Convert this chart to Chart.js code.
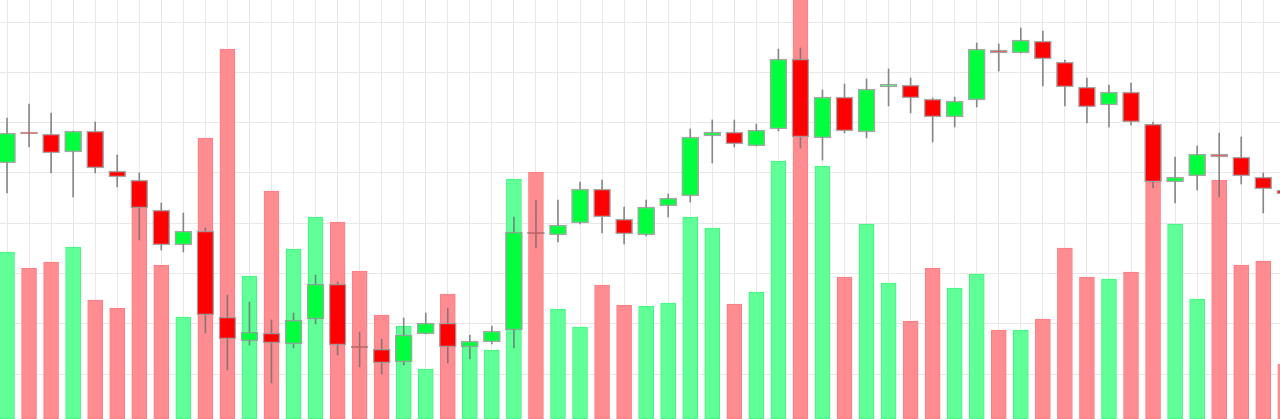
<!DOCTYPE html>
<html lang="en">

<head>
    <meta charset="UTF-8">
    <meta name="viewport" content="width=device-width, initial-scale=1.0">
    <title>Candles</title>
    <script src="https://cdn.jsdelivr.net/npm/chart.js"></script>
    <style>
        html, body {
            margin: 0;
            padding: 0;
            background-color: #ffffff;
            overflow: hidden;
        }

        #wrap {
            position: relative;
            width: 1280px;
            height: 419px;
        }
    </style>
</head>

<body>
    <div id="wrap">
        <canvas id="chart-candles"></canvas>
    </div>

    <script>
        // OHLC + volume, one entry per session
        const opens = [151.97, 158.13, 157.73, 154.16, 158.33, 150.38, 148.59, 142.62, 135.67, 138.45,
            121.35, 116.58, 118.17, 115.98, 120.95, 127.91, 115.59, 114.99, 112.41, 117.97,
            120.16, 115.39, 116.38, 118.77, 138.25, 137.65, 140.04, 146.80, 140.83, 137.65,
            143.42, 145.41, 157.34, 158.13, 155.35, 158.73, 172.64, 156.94, 165.09, 158.13,
            167.08, 167.48, 164.69, 161.11, 164.49, 174.43, 173.84, 176.22, 172.05, 167.08,
            163.50, 166.08, 159.72, 148.19, 149.38, 153.76, 153.16, 149.18, 146.60];
        const highs = [160.91, 163.70, 161.91, 158.33, 160.12, 153.56, 149.98, 144.02, 142.03, 139.05,
            125.73, 124.33, 120.76, 122.15, 129.70, 128.31, 118.37, 116.98, 121.15, 122.15,
            123.14, 117.77, 119.56, 141.23, 144.61, 144.61, 148.19, 148.59, 143.22, 144.61,
            145.81, 158.73, 160.52, 160.52, 159.72, 174.63, 174.83, 166.48, 167.67, 168.67,
            170.66, 168.87, 164.89, 165.09, 175.83, 175.63, 178.81, 178.21, 172.45, 168.87,
            167.48, 167.87, 160.12, 153.16, 155.35, 157.93, 157.14, 149.98, 147.40];
        const lows = [146.00, 155.15, 149.98, 145.21, 149.98, 147.20, 136.66, 134.67, 134.27, 118.17,
            110.81, 115.79, 108.23, 115.19, 119.96, 113.80, 111.41, 110.02, 111.81, 117.97,
            112.21, 113.00, 115.98, 115.19, 135.07, 136.26, 139.84, 138.05, 135.86, 137.46,
            141.23, 144.21, 151.97, 155.15, 155.35, 158.33, 154.95, 152.56, 157.93, 156.94,
            163.30, 161.91, 156.14, 159.13, 163.10, 170.26, 173.84, 167.28, 163.30, 159.92,
            159.13, 159.52, 147.00, 144.02, 146.60, 145.21, 147.79, 142.03, 145.01];
        const closes = [157.93, 157.73, 153.96, 158.33, 150.97, 149.18, 143.02, 135.67, 138.45, 121.75,
            116.98, 118.37, 116.18, 120.76, 127.91, 115.79, 115.19, 112.21, 117.77, 120.16,
            115.39, 116.58, 118.57, 138.25, 137.85, 139.64, 146.80, 141.23, 137.85, 143.22,
            145.01, 157.14, 158.13, 155.75, 158.53, 172.64, 157.14, 165.09, 158.33, 166.68,
            167.67, 164.89, 161.11, 164.29, 174.63, 173.84, 176.42, 172.64, 167.08, 163.10,
            166.08, 160.12, 148.19, 149.18, 153.76, 153.16, 149.38, 146.80, 145.81];
        const volumes = [1670, 1510, 1570, 1720, 1190, 1110, 2140, 1540, 1020, 2810,
            3700, 1430, 2280, 1700, 2020, 1970, 1480, 1040, 930, 500,
            1250, 750, 690, 2400, 2470, 1100, 920, 1340, 1140, 1130,
            1160, 2020, 1910, 1150, 1270, 2580, 4400, 2530, 1420, 1950,
            1360, 980, 1510, 1310, 1450, 890, 890, 1000, 1710, 1420,
            1400, 1470, 2370, 1950, 1200, 2390, 1540, 1580, 550];

        const UP = '#00ff3c';
        const DOWN = '#ff0000';
        const UP_VOL = '#60ff97';
        const DOWN_VOL = '#ff8c90';

        const isUp = closes.map((c, i) => c >= opens[i]);

        const bodies = opens.map((o, i) => ({ x: i, y: [o, closes[i]] }));
        const wicks = lows.map((l, i) => ({ x: i, y: [l, highs[i]] }));
        const vols = volumes.map((v, i) => ({ x: i, y: v }));

        const ctx = document.getElementById('chart-candles').getContext('2d');

        const chart = new Chart(ctx, {
            type: 'bar',
            data: {
                datasets: [{
                    label: 'Body',
                    data: bodies,
                    yAxisID: 'y',
                    order: 0,
                    grouped: false,
                    barThickness: 17,
                    backgroundColor: isUp.map(u => u ? UP : DOWN),
                    borderColor: 'rgba(150,150,150,0.85)',
                    borderWidth: 1.5,
                    borderSkipped: false
                }, {
                    label: 'Wick',
                    data: wicks,
                    yAxisID: 'y',
                    order: 1,
                    grouped: false,
                    barThickness: 1,
                    backgroundColor: 'rgba(110,110,110,0.8)',
                    borderWidth: 0
                }, {
                    label: 'Volume',
                    data: vols,
                    yAxisID: 'vol',
                    order: 2,
                    grouped: false,
                    barThickness: 15,
                    backgroundColor: isUp.map(u => u ? UP_VOL : DOWN_VOL),
                    borderColor: isUp.map(u => u ? '#3cf77c' : '#ff7c82'),
                    borderWidth: 1,
                    borderSkipped: false
                }]
            },
            options: {
                responsive: true,
                maintainAspectRatio: false,
                animation: false,
                layout: { padding: 0 },
                plugins: {
                    legend: { display: false },
                    tooltip: { enabled: false }
                },
                scales: {
                    x: {
                        type: 'linear',
                        offset: false,
                        min: -0.318,
                        max: 57.76,
                        ticks: { display: false, stepSize: 1, includeBounds: false },
                        grid: { color: '#e8e8e8', drawTicks: false, offset: false },
                        border: { display: false },
                        afterFit: (s) => { s.height = 0; }
                    },
                    y: {
                        position: 'left',
                        min: 101.074,
                        max: 184.374,
                        ticks: { display: false, stepSize: 10, includeBounds: false },
                        grid: { color: '#e8e8e8', drawTicks: false },
                        border: { display: false },
                        afterFit: (s) => { s.width = 0; }
                    },
                    vol: {
                        display: false,
                        min: 0,
                        max: 4190
                    }
                }
            }
        });
    </script>
</body>

</html>
